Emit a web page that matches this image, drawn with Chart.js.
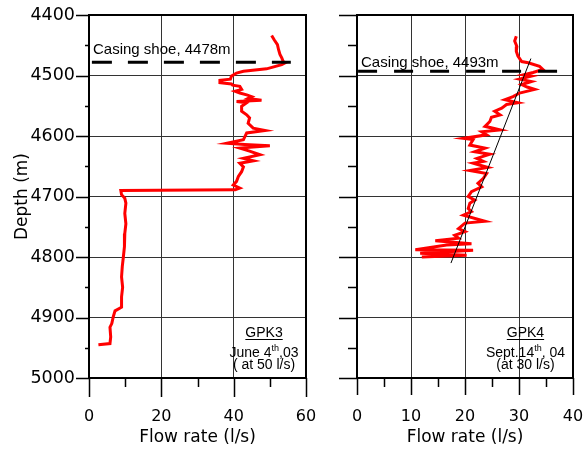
<!DOCTYPE html>
<html>
<head>
<meta charset="utf-8">
<script src="https://cdn.jsdelivr.net/npm/chart.js@4.4.1/dist/chart.umd.min.js"></script>
<style>
  html, body { margin: 0; padding: 0; background: #fff; }
  #wrap { position: relative; width: 585px; height: 451px; }
  canvas { position: absolute; top: 0; }
  #gpk3 { left: 0; }
  #gpk4 { left: 320px; }
</style>
</head>
<body>
<div id="wrap">
  <canvas id="gpk3" width="320" height="451"></canvas>
  <canvas id="gpk4" width="265" height="451"></canvas>
</div>
<script>
// GPK3 flow log (June 4th 2003, injection at 50 l/s)
const gpk3Depth = [4434, 4441, 4449, 4457, 4465, 4471, 4477, 4479, 4482, 4489, 4493, 4496, 4501, 4506,
  4508, 4512, 4514, 4516, 4518, 4523, 4526, 4529, 4532, 4535, 4538, 4541, 4543, 4545, 4551, 4559,
  4565, 4570, 4579, 4587, 4591, 4595, 4601, 4606, 4612, 4614, 4616, 4620, 4625, 4631, 4637, 4641,
  4645, 4651, 4659, 4667, 4675, 4681, 4686, 4689, 4690, 4697, 4703, 4711, 4728, 4745, 4761, 4783,
  4800, 4816, 4833, 4850, 4866, 4883, 4889, 4899, 4910, 4916, 4932, 4943, 4945];
const gpk3Flow = [50.5, 51.2, 52.1, 52.4, 52.8, 53.3, 53.7, 54.2, 53.3, 49.1, 42.7, 40.8, 39.4, 39.1,
  36.2, 36.2, 39.4, 39.7, 41.7, 42.2, 40.4, 41.7, 43.6, 45.0, 44.0, 47.7, 40.8, 43.6, 42.2, 42.2,
  43.6, 44.4, 44.0, 45.4, 48.7, 43.6, 43.1, 42.7, 38.1, 43.0, 50.0, 41.7, 44.4, 47.3, 42.7, 45.5,
  41.7, 42.7, 42.2, 41.3, 40.8, 39.9, 41.7, 40.4, 8.8, 9.0, 9.9, 10.2, 9.9, 10.2, 9.9, 9.8,
  9.5, 9.2, 9.0, 9.3, 9.0, 9.0, 7.2, 6.7, 6.3, 5.8, 6.0, 5.8, 2.6];

// GPK4 flow log (Sept. 14th 2004, injection at 30 l/s)
const gpk4Depth = [4435, 4443, 4452, 4460, 4468, 4477, 4479, 4485, 4490, 4495, 4499, 4501, 4506, 4510,
  4515, 4519, 4523, 4529, 4535, 4540, 4545, 4548, 4554, 4559, 4565, 4569, 4576, 4584, 4590, 4593,
  4598, 4604, 4606, 4615, 4620, 4626, 4630, 4637, 4642, 4645, 4652, 4657, 4662, 4670, 4678, 4684,
  4692, 4700, 4706, 4711, 4720, 4725, 4731, 4741, 4744, 4753, 4758, 4764, 4769, 4773, 4778, 4780,
  4788, 4789, 4792, 4794, 4797, 4800];
const gpk4Flow = [29.5, 29.2, 29.6, 29.5, 29.8, 30.5, 31.7, 33.8, 34.4, 32.6, 30.8, 32.3, 30.1, 32.3,
  30.5, 31.5, 32.9, 30.1, 28.9, 27.4, 29.8, 27.7, 26.8, 25.5, 26.5, 24.9, 24.6, 23.7, 26.5, 23.1,
  24.0, 19.7, 21.5, 20.9, 23.7, 21.8, 24.6, 22.2, 23.4, 21.5, 24.2, 20.9, 24.0, 23.4, 22.4, 23.1,
  21.2, 20.6, 21.8, 20.9, 20.6, 21.2, 19.7, 23.7, 20.0, 18.8, 20.0, 18.1, 18.8, 14.5, 21.2, 16.6,
  10.8, 21.5, 15.4, 11.7, 20.3, 12.0];

// casing shoe depths and the trend line drawn through GPK4
const casingDepth = [4478, 4493];
const casingFlowRange = [[0.8, 55.8], [0.2, 37.1]];
const fitFlow = [32.2, 17.4];
const fitDepth = [4472, 4810];

const depthTicks = [4400, 4500, 4600, 4700, 4800, 4900, 5000];
const flowMax = [60, 40];
const flowStep = [20, 10];

Chart.defaults.font.family = '"DejaVu Sans", sans-serif';
Chart.defaults.color = '#000';

function pts(xs, ys) {
  return xs.map((v, i) => ({ x: v, y: ys[i] }));
}

// frame plus long/short tick marks outside the plot area
const frameTicks = {
  id: 'frameTicks',
  afterDraw(chart, args, o) {
    const { ctx, chartArea: a, scales: { x, y } } = chart;
    ctx.save();
    ctx.strokeStyle = '#000';
    ctx.lineWidth = 1.5;
    ctx.beginPath();
    for (let v = y.min; v <= y.max; v += 50) {
      const py = Math.round(y.getPixelForValue(v)) + 0.5;
      const len = v % 100 === 0 ? o.yMajor : o.yMinor;
      ctx.moveTo(a.left - len, py);
      ctx.lineTo(a.left, py);
    }
    for (let v = x.min; v <= x.max; v += o.xStep / 2) {
      const px = Math.round(x.getPixelForValue(v)) + 0.5;
      const len = v % o.xStep === 0 ? o.xMajor : o.xMinor;
      ctx.moveTo(px, a.bottom);
      ctx.lineTo(px, a.bottom + len);
    }
    ctx.stroke();
    ctx.lineWidth = 2;
    ctx.strokeRect(a.left, a.top, a.right - a.left, a.bottom - a.top);
    ctx.restore();
  }
};

// casing shoe label and well caption
const notes = {
  id: 'notes',
  afterDatasetsDraw(chart, args, o) {
    const { ctx, chartArea: a, scales: { x, y } } = chart;
    ctx.save();
    ctx.fillStyle = '#000';
    ctx.strokeStyle = '#000';
    ctx.textBaseline = 'alphabetic';
    ctx.font = '15px "Liberation Sans", Arial, sans-serif';
    ctx.textAlign = 'left';
    ctx.fillText(o.casing, a.left + 4, y.getPixelForValue(o.casingDepth) - o.casingDy);

    const mainFont = '14px "Liberation Sans", Arial, sans-serif';
    const supFont = '9px "Liberation Sans", Arial, sans-serif';
    const cx = x.getPixelForValue(o.labelX);
    ctx.font = mainFont;
    ctx.textAlign = 'center';
    const nb = a.bottom - 41;
    ctx.fillText(o.well, cx, nb);
    const w = ctx.measureText(o.well).width;
    ctx.lineWidth = 1;
    ctx.beginPath();
    ctx.moveTo(cx - w / 2, nb + 2.5);
    ctx.lineTo(cx + w / 2, nb + 2.5);
    ctx.stroke();

    // date line with superscript
    const [pre, sup, post] = o.date;
    ctx.textAlign = 'left';
    const w1 = ctx.measureText(pre).width, w3 = ctx.measureText(post).width;
    ctx.font = supFont;
    const w2 = ctx.measureText(sup).width;
    const sx = cx - (w1 + w2 + w3) / 2;
    const db = a.bottom - 21;
    ctx.font = mainFont;
    ctx.fillText(pre, sx, db);
    ctx.font = supFont;
    ctx.fillText(sup, sx + w1, db - 6);
    ctx.font = mainFont;
    ctx.fillText(post, sx + w1 + w2, db);

    ctx.textAlign = 'center';
    ctx.fillText(o.rate, cx, a.bottom - 9);
    ctx.restore();
  }
};

function makeChart(id, idx, flow, depth, extra, opts) {
  const datasets = [
    {
      data: pts(flow, depth),
      borderColor: '#ff0000',
      borderWidth: 3,
      order: 2
    },
    {
      data: pts(casingFlowRange[idx], [casingDepth[idx], casingDepth[idx]]),
      borderColor: '#000',
      borderWidth: 3,
      borderDash: opts.dash,
      borderCapStyle: 'butt',
      order: 1
    }
  ].concat(extra);

  return new Chart(document.getElementById(id), {
    type: 'scatter',
    data: { datasets: datasets },
    options: {
      responsive: false,
      animation: false,
      showLine: true,
      elements: { point: { radius: 0, hoverRadius: 0 }, line: { tension: 0 } },
      layout: { padding: { top: 15, right: opts.padRight, bottom: 0, left: 0 } },
      plugins: {
        legend: { display: false },
        tooltip: { enabled: false },
        frameTicks: opts.ticks,
        notes: opts.notes
      },
      scales: {
        x: {
          type: 'linear',
          min: 0,
          max: flowMax[idx],
          border: { display: false },
          grid: { color: '#333', lineWidth: 1, drawTicks: false },
          ticks: { stepSize: flowStep[idx], padding: 29, font: { size: 16 }, callback: v => String(v) },
          title: {
            display: true,
            text: 'Flow rate (l/s)',
            font: { size: 17 },
            padding: { top: 0, bottom: 3 }
          },
          afterFit: s => {
            s.height = 73;
            s.paddingLeft = 0;
            s.paddingRight = 0;
          }
        },
        y: {
          type: 'linear',
          reverse: true,
          min: 4400,
          max: 5000,
          border: { display: false },
          grid: { color: '#333', lineWidth: 1, drawTicks: false },
          afterBuildTicks: s => { s.ticks = depthTicks.map(v => ({ value: v })); },
          ticks: { display: opts.yLabels, padding: 14, font: { size: 17.5 }, callback: v => String(v) },
          title: {
            display: opts.yLabels,
            text: 'Depth (m)',
            font: { size: 17 },
            padding: { top: 12, bottom: 0 }
          },
          afterFit: s => {
            s.width = opts.yWidth;
            s.paddingTop = 0;
            s.paddingBottom = 0;
          }
        }
      }
    },
    plugins: [frameTicks, notes]
  });
}

makeChart('gpk3', 0, gpk3Flow, gpk3Depth, [], {
  dash: [20, 16],
  padRight: 14,
  yWidth: 89,
  yLabels: true,
  ticks: { yMajor: 13, yMinor: 4, xMajor: 19, xMinor: 9, xStep: 20 },
  notes: {
    casing: 'Casing shoe, 4478m', casingDepth: casingDepth[0], casingDy: 8,
    labelX: 48.4, well: 'GPK3', date: ['June 4', 'th', ',03'], rate: '( at 50 l/s)'
  }
});

makeChart('gpk4', 1, gpk4Flow, gpk4Depth, [{
  data: pts(fitFlow, fitDepth),
  borderColor: '#000',
  borderWidth: 1,
  order: 0
}], {
  dash: [19, 17],
  padRight: 12,
  yWidth: 37,
  yLabels: false,
  ticks: { yMajor: 18, yMinor: 9, xMajor: 17, xMinor: 9, xStep: 10 },
  notes: {
    casing: 'Casing shoe, 4493m', casingDepth: casingDepth[1], casingDy: 4,
    labelX: 31.2, well: 'GPK4', date: ['Sept.14', 'th', ', 04'], rate: '(at 30 l/s)'
  }
});
</script>
</body>
</html>
